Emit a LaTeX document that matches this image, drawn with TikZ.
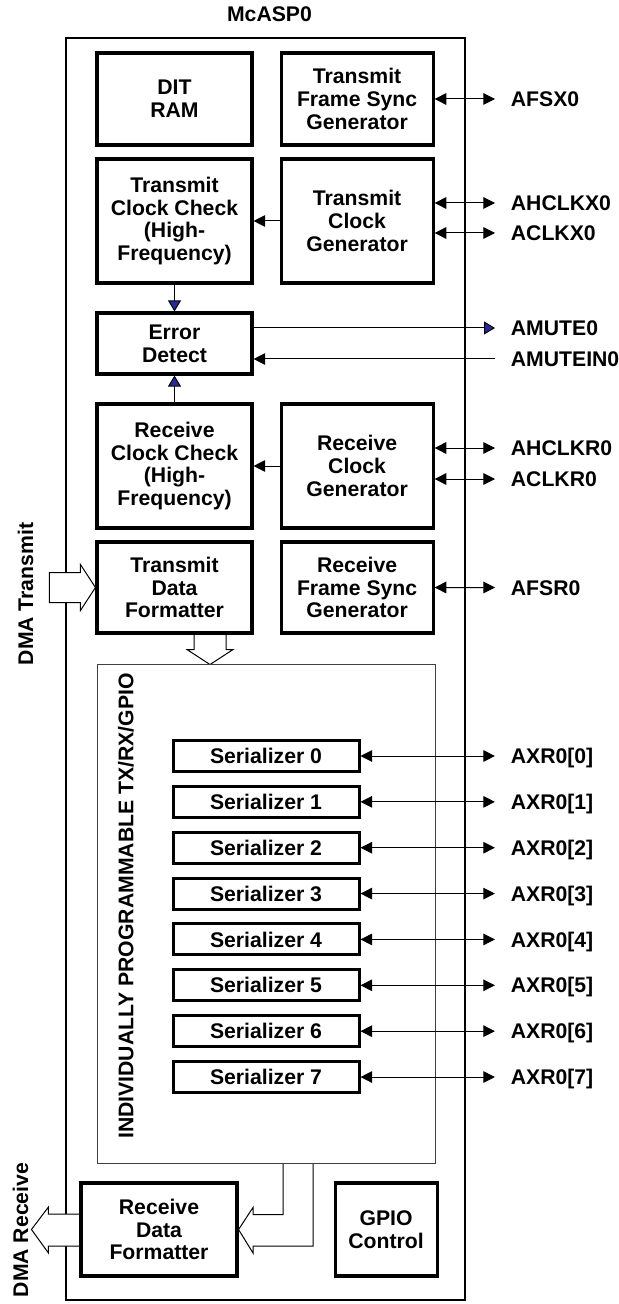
\documentclass[tikz,border=0pt]{standalone}
\usepackage{fontspec}
\setmainfont{Liberation Sans}
\usepackage{xcolor}
\usetikzlibrary{arrows.meta,calc,backgrounds,positioning}
\definecolor{arrowblue}{RGB}{40,40,150}

\begin{document}
\begin{tikzpicture}[x=0.5pt,y=-0.5pt,>={Triangle[length=5.8pt,width=5.8pt]},
    line width=0.5pt,font=\bfseries\fontsize{10.6pt}{11.35pt}\selectfont]
    \tikzstyle{block}=[draw,line width=1.55pt,align=center,inner sep=1pt,minimum width=77.5pt]
    \tikzstyle{serial}=[draw,line width=1.5pt,inner sep=0pt,minimum width=93pt,minimum height=15.5pt]
    \tikzstyle{pinlabel}=[anchor=west,inner xsep=7.7pt,inner ysep=0pt,text height=7.6pt,text depth=0pt]
    \tikzstyle{bigarrow}=[draw,fill=white,line width=0.5pt]
    \tikzstyle{bluetip}=[-{Triangle[length=5.5pt,width=6.5pt,fill=arrowblue]}]

    \useasboundingbox (0,0) rectangle (618,1304);

    \begin{scope}[on background layer]
      \node[draw,line width=1.4pt,minimum width=199.5pt,minimum height=631pt] (mcasp) at (265.5,669) {};
    \end{scope}
    \node (title) [above=4pt of mcasp,xshift=2pt] {McASP0};

    \node[block,minimum height=46pt]                    (dit)  at (174.5,99)       {DIT\\RAM};
    \node[block,minimum width=76pt,minimum height=46pt] (tfs)  [right=13pt of dit]  {Transmit\\Frame Sync\\Generator};
    \node[block,minimum height=62pt]                    (tcc)  [below=5.45pt of dit] {Transmit\\Clock Check\\(High-\\Frequency)};
    \node[block,minimum width=76pt,minimum height=62pt] (tcg)  [right=13pt of tcc]  {Transmit\\Clock\\Generator};
    \node[block,minimum height=30.5pt]                  (err)  [below=13.45pt of tcc] {Error\\Detect};
    \node[block,minimum height=62pt]                    (rcc)  [below=13.45pt of err] {Receive\\Clock Check\\(High-\\Frequency)};
    \node[block,minimum width=76pt,minimum height=62pt] (rcg)  [right=13pt of rcc]  {Receive\\Clock\\Generator};
    \node[block,minimum height=45.5pt]                  (tdf)  [below=5.45pt of rcc] {Transmit\\Data\\Formatter};
    \node[block,minimum width=76pt,minimum height=45.5pt] (rfs) [right=13pt of tdf] {Receive\\Frame Sync\\Generator};

    \node[draw=black!75,minimum width=169pt,minimum height=249.5pt] (serbox) at (266,913.5) {};
    \node[rotate=90] (prog) at (126,906) {INDIVIDUALLY PROGRAMMABLE TX/RX/GPIO};
    \node[serial] (ser0) at (266,756)          {Serializer 0};
    \node[serial] (ser1) [below=5.93pt of ser0] {Serializer 1};
    \node[serial] (ser2) [below=5.93pt of ser1] {Serializer 2};
    \node[serial] (ser3) [below=5.93pt of ser2] {Serializer 3};
    \node[serial] (ser4) [below=5.93pt of ser3] {Serializer 4};
    \node[serial] (ser5) [below=5.93pt of ser4] {Serializer 5};
    \node[serial] (ser6) [below=5.93pt of ser5] {Serializer 6};
    \node[serial] (ser7) [below=5.93pt of ser6] {Serializer 7};

    \node[block,minimum width=78pt,minimum height=46.5pt] (rdf)  at (159,1229.5)        {Receive\\Data\\Formatter};
    \node[block,minimum width=51pt,minimum height=46.5pt] (gpio) [right=47.5pt of rdf] {GPIO\\Control};

    \node[rotate=90] (dmatx) at (25.5,594) {DMA Transmit};
    \node[rotate=90] (dmarx) at (20.5,1230) {DMA Receive};

    \node[pinlabel] (afsx)    at (495,99)    {AFSX0};
    \node[pinlabel] (ahclkx)  at (495,203)   {AHCLKX0};
    \node[pinlabel] (aclkx)   at (495,233)   {ACLKX0};
    \node[pinlabel] (amute)   at (495,328)   {AMUTE0};
    \node[pinlabel] (amutein) at (495,359)   {AMUTEIN0};
    \node[pinlabel] (ahclkr)  at (495,448)   {AHCLKR0};
    \node[pinlabel] (aclkr)   at (495,479)   {ACLKR0};
    \node[pinlabel] (afsr)    at (495,587.5) {AFSR0};
    \node[pinlabel] (axr0) [right=67.2pt of ser0] {AXR0[0]};
    \node[pinlabel] (axr1) [right=67.2pt of ser1] {AXR0[1]};
    \node[pinlabel] (axr2) [right=67.2pt of ser2] {AXR0[2]};
    \node[pinlabel] (axr3) [right=67.2pt of ser3] {AXR0[3]};
    \node[pinlabel] (axr4) [right=67.2pt of ser4] {AXR0[4]};
    \node[pinlabel] (axr5) [right=67.2pt of ser5] {AXR0[5]};
    \node[pinlabel] (axr6) [right=67.2pt of ser6] {AXR0[6]};
    \node[pinlabel] (axr7) [right=67.2pt of ser7] {AXR0[7]};

    \path (tfs)                 edge [<->]    (afsx)
          (tcg.east |- ahclkx)  edge [<->]    (ahclkx)
          (tcg.east |- aclkx)   edge [<->]    (aclkx)
          (tcg)                 edge [->]     (tcc)
          (tcc)                 edge [bluetip] (err)
          (rcc)                 edge [bluetip] (err)
          (err.east |- amute)   edge [bluetip] (amute)
          (amutein)             edge [->]     (err.east |- amutein)
          (rcg.east |- ahclkr)  edge [<->]    (ahclkr)
          (rcg.east |- aclkr)   edge [<->]    (aclkr)
          (rcg)                 edge [->]     (rcc)
          (rfs)                 edge [<->]    (afsr)
          (ser0)                edge [<->]    (axr0)
          (ser1)                edge [<->]    (axr1)
          (ser2)                edge [<->]    (axr2)
          (ser3)                edge [<->]    (axr3)
          (ser4)                edge [<->]    (axr4)
          (ser5)                edge [<->]    (axr5)
          (ser6)                edge [<->]    (axr6)
          (ser7)                edge [<->]    (axr7);

    % wide data paths
    \begin{scope}[on background layer]
      \draw[bigarrow] (tdf.west) -- ++(-15,-23) -- ++(0,8) -- ++(-31,0) -- ++(0,30) -- ++(31,0) -- ++(0,8) -- cycle;
      \draw[bigarrow] ($(tdf.south)+(19.5,0)$) -- ++(0,15) -- ++(-7,0) -- ++(23,15) -- ++(23,-15) -- ++(-7,0) -- ++(0,-15);
      \draw[bigarrow] ($(serbox.south)+(17,0)$) -- ++(0,51) -- ++(-30,0) -- ++(0,-7) -- (rdf.east)
        -- ++(14.45,23.5) -- ++(0,-7) -- ++(60,0) -- ++(0,-82.5);
      \draw[bigarrow] ($(rdf.west)+(0,-15.5)$) -- ++(-31,0) -- ++(0,-7) -- ++(-17,22.5) -- ++(17,23.5) -- ++(0,-7) -- ++(31,0);
    \end{scope}
\end{tikzpicture}
\end{document}
